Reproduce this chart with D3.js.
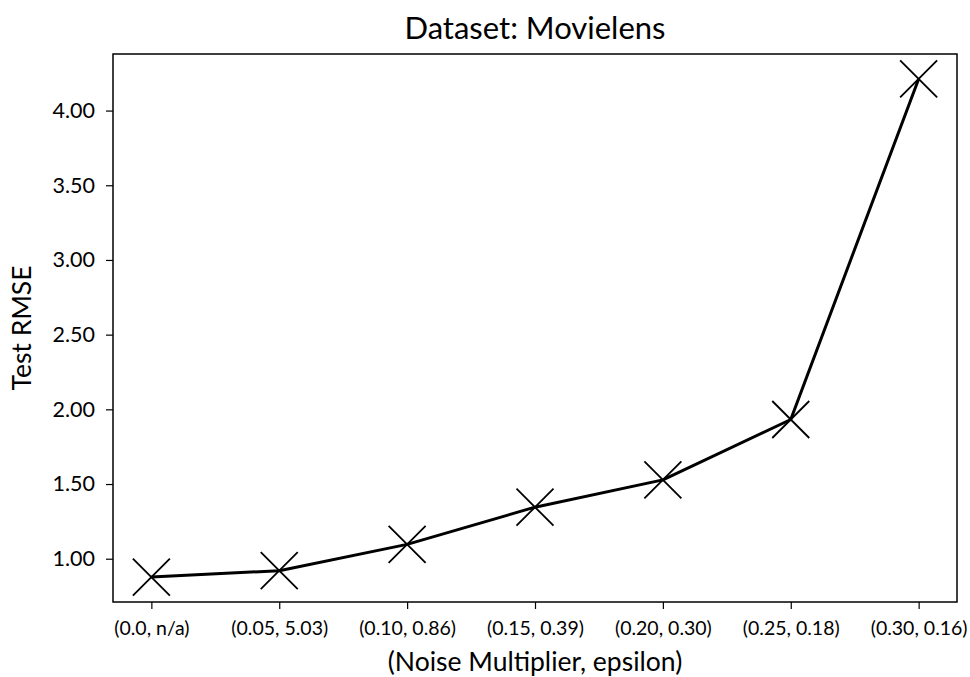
<!DOCTYPE html>
<html>
<head>
<meta charset="utf-8">
<script src="https://cdn.jsdelivr.net/npm/d3@7"></script>
<style>
  body { margin: 0; background: #fff; }
  svg text { font-family: "Source Sans Pro", Lato, "Noto Sans", sans-serif; fill: #000; }
</style>
</head>
<body>
<svg id="chart" width="970" height="677"></svg>
<script>
// Noise multiplier / epsilon pairs and the resulting test RMSE
const categories = ["(0.0, n/a)", "(0.05, 5.03)", "(0.10, 0.86)", "(0.15, 0.39)", "(0.20, 0.30)", "(0.25, 0.18)", "(0.30, 0.16)"];
const rmse = [0.877, 0.920, 1.096, 1.345, 1.528, 1.932, 4.212];
const yTicks = [1.0, 1.5, 2.0, 2.5, 3.0, 3.5, 4.0];
const titleText = "Dataset: Movielens";
const xLabel = "(Noise Multiplier, epsilon)";
const yLabel = "Test RMSE";

const svg = d3.select("#chart");
const m = { left: 113, right: 957, top: 54, bottom: 602 };

const n = categories.length;
const pad = 0.05 * (n - 1);
const x = d3.scaleLinear().domain([-pad, n - 1 + pad]).range([m.left, m.right]);
const yMin = d3.min(rmse), yMax = d3.max(rmse);
const ypad = 0.05 * (yMax - yMin);
const y = d3.scaleLinear().domain([yMin - ypad, yMax + ypad]).range([m.bottom, m.top]);

// Axes
const xAxis = d3.axisBottom(x)
  .tickValues(d3.range(n))
  .tickFormat(i => categories[i])
  .tickSizeInner(7).tickSizeOuter(0).tickPadding(12);
const gx = svg.append("g").attr("transform", `translate(0,${m.bottom})`).call(xAxis);
gx.select(".domain").remove();
gx.selectAll("line").attr("stroke", "#000").attr("stroke-width", 1.2);
gx.selectAll("text").style("font-size", "19.5px").attr("dy", "0.71em");

const yAxis = d3.axisLeft(y)
  .tickValues(yTicks)
  .tickFormat(d3.format(".2f"))
  .tickSizeInner(7).tickSizeOuter(0).tickPadding(11);
const gy = svg.append("g").attr("transform", `translate(${m.left},0)`).call(yAxis);
gy.select(".domain").remove();
gy.selectAll("line").attr("stroke", "#000").attr("stroke-width", 1.2);
gy.selectAll("text").style("font-size", "21.5px");

// Frame
svg.append("rect")
  .attr("x", m.left).attr("y", m.top)
  .attr("width", m.right - m.left).attr("height", m.bottom - m.top)
  .attr("fill", "none").attr("stroke", "#000").attr("stroke-width", 1.5);

// Line
const line = d3.line().x((d, i) => x(i)).y(d => y(d));
svg.append("path").datum(rmse)
  .attr("d", line)
  .attr("fill", "none").attr("stroke", "#000").attr("stroke-width", 3)
  .attr("stroke-linejoin", "round");

// X markers
const s = 18.5;
svg.append("g").selectAll("path").data(rmse).join("path")
  .attr("d", (d, i) => {
    const cx = x(i), cy = y(d);
    return `M${cx - s},${cy - s}L${cx + s},${cy + s}M${cx - s},${cy + s}L${cx + s},${cy - s}`;
  })
  .attr("stroke", "#000").attr("stroke-width", 1.8).attr("fill", "none");

// Titles
svg.append("text").attr("x", (m.left + m.right) / 2).attr("y", 39)
  .attr("text-anchor", "middle").style("font-size", "31px").text(titleText);
svg.append("text").attr("x", (m.left + m.right) / 2).attr("y", 671)
  .attr("text-anchor", "middle").style("font-size", "26.5px").text(xLabel);
svg.append("text")
  .attr("transform", `translate(31,${(m.top + m.bottom) / 2}) rotate(-90)`)
  .attr("text-anchor", "middle").style("font-size", "26.5px").text(yLabel);
</script>
</body>
</html>
